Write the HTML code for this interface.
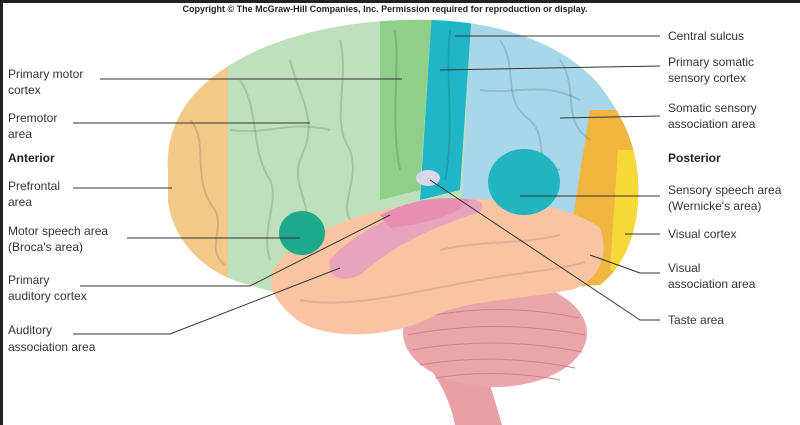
<!DOCTYPE html>
<html><head><meta charset="utf-8"><style>
html,body{margin:0;padding:0;background:#fff}
svg{display:block}
text{font-family:"Liberation Sans",sans-serif;font-size:12px;fill:#333}
</style></head><body>
<svg width="800" height="425" viewBox="0 0 800 425">
<rect width="800" height="425" fill="#fff"/>
<rect x="0" y="0" width="800" height="3" fill="#222"/>
<rect x="0" y="0" width="3" height="425" fill="#222"/>
<defs>
<clipPath id="cb"><path d="M168,170 C165,120 195,85 235,62 C285,32 360,18 430,20 C510,22 580,50 610,100 C630,130 640,160 638,200 C636,240 620,270 600,285 L330,300 C300,298 270,292 250,285 C205,275 172,240 168,200 Z"/></clipPath>
</defs>
<path d="M420,355 C440,380 450,400 455,425 L502,425 C495,400 488,380 482,355 Z" fill="#e8a0a4"/>
<ellipse cx="495" cy="333" rx="92" ry="54" fill="#e9a6ab"/>
<g stroke="#d08088" stroke-width="1" fill="none">
<path d="M410,320 Q495,300 580,318"/><path d="M408,335 Q495,318 585,335"/><path d="M412,350 Q495,335 582,352"/><path d="M420,365 Q495,352 575,368"/><path d="M435,378 Q495,368 560,380"/>
</g>
<g clip-path="url(#cb)">
<rect x="160" y="10" width="500" height="300" fill="#bfe0bc"/>
<path d="M160,10 L228,10 L228,310 L160,310 Z" fill="#f3c98a"/>
<path d="M380,10 L432,10 L420,190 L380,200 Z" fill="#8fcf8a"/>
<path d="M432,10 L472,10 L460,190 L420,200 Z" fill="#20b6c8"/>
<path d="M472,10 L660,10 L660,230 L460,230 Z" fill="#a9d7ea"/>
<path d="M590,110 L660,110 L660,300 L560,300 Z" fill="#f0b640"/>
<path d="M618,150 L660,150 L660,290 L610,270 Z" fill="#f6d838"/>
<g stroke="#000" stroke-opacity="0.13" stroke-width="2" fill="none">
<path d="M240,80 C260,110 250,150 270,180 C280,200 260,230 270,260"/>
<path d="M290,60 C300,100 320,120 300,160 C290,190 320,210 300,240"/>
<path d="M340,40 C350,80 330,120 350,150 C360,180 340,200 350,220"/>
<path d="M395,30 C400,70 390,120 400,170"/>
<path d="M450,30 C445,80 455,130 445,180"/>
<path d="M500,40 C520,70 500,100 530,120 C550,140 530,160 560,170"/>
<path d="M560,60 C580,90 560,120 590,140"/>
<path d="M190,120 C210,140 190,180 215,210 C225,230 205,250 225,265"/>
<path d="M230,130 C270,135 290,120 330,130"/>
<path d="M480,90 C520,95 540,80 580,100"/>
</g>
</g>
<path d="M272,272 C290,235 360,210 440,200 C500,195 570,205 600,228 C612,260 592,286 570,290 C520,300 460,300 430,318 C390,338 330,340 300,322 C278,306 268,290 272,272 Z" fill="#f9c4a2"/>
<g stroke="#000" stroke-opacity="0.1" stroke-width="2" fill="none">
<path d="M300,300 C350,310 420,290 480,280 C520,272 560,270 585,262"/>
<path d="M440,250 C480,240 520,245 560,235"/>
</g>
<path d="M330,260 C350,235 400,210 440,200 C470,196 490,200 480,212 C440,225 400,240 360,275 C345,282 325,280 330,260 Z" fill="#e8a4bc"/>
<path d="M380,215 C410,200 440,195 470,200 C460,215 420,225 390,228 Z" fill="#e78fb0"/>
<ellipse cx="302" cy="233" rx="23" ry="22" fill="#1ea98c"/>
<ellipse cx="524" cy="182" rx="36" ry="33" fill="#22b5c0"/>
<ellipse cx="428" cy="178" rx="12" ry="8" fill="#d8d8ea"/>
<g stroke="#333" stroke-width="1" fill="none">
<line x1="100" y1="79" x2="402" y2="79"/>
<line x1="73" y1="123" x2="310" y2="123"/>
<line x1="73" y1="188" x2="172" y2="188"/>
<line x1="127" y1="238" x2="300" y2="238"/>
<polyline points="80,286 250,286 390,215"/>
<polyline points="73,334 170,334 340,268"/>
<line x1="660" y1="36" x2="455" y2="36"/>
<line x1="660" y1="66" x2="440" y2="70"/>
<line x1="660" y1="116" x2="560" y2="118"/>
<line x1="660" y1="196" x2="520" y2="196"/>
<line x1="660" y1="234" x2="625" y2="234"/>
<polyline points="660,273 640,273 590,255"/>
<polyline points="660,320 640,320 430,180"/>
</g>
<text x="385" y="12" text-anchor="middle" style="font-size:9px;font-weight:bold;fill:#222">Copyright © The McGraw-Hill Companies, Inc. Permission required for reproduction or display.</text>
<text x="8" y="78">Primary motor</text><text x="8" y="94">cortex</text>
<text x="8" y="122">Premotor</text><text x="8" y="138">area</text>
<text x="8" y="162" style="font-weight:bold;fill:#222">Anterior</text>
<text x="8" y="190">Prefrontal</text><text x="8" y="206">area</text>
<text x="8" y="235">Motor speech area</text><text x="8" y="251">(Broca's area)</text>
<text x="8" y="284">Primary</text><text x="8" y="300">auditory cortex</text>
<text x="8" y="334">Auditory</text><text x="8" y="351">association area</text>
<text x="668" y="40">Central sulcus</text>
<text x="668" y="66">Primary somatic</text><text x="668" y="82">sensory cortex</text>
<text x="668" y="112">Somatic sensory</text><text x="668" y="128">association area</text>
<text x="668" y="162" style="font-weight:bold;fill:#222">Posterior</text>
<text x="668" y="194">Sensory speech area</text><text x="668" y="210">(Wernicke's area)</text>
<text x="668" y="238">Visual cortex</text>
<text x="668" y="272">Visual</text><text x="668" y="288">association area</text>
<text x="668" y="324">Taste area</text>
</svg>
</body></html>
